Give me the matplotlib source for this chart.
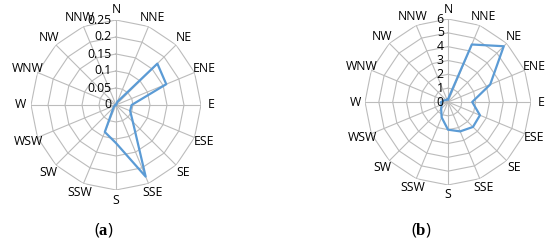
import numpy as np
import matplotlib.pyplot as plt

plt.rcParams['font.family'] = ['Open Sans', 'DejaVu Sans']
plt.rcParams['mathtext.fontset'] = 'custom'
plt.rcParams['mathtext.rm'] = 'Liberation Serif'
plt.rcParams['mathtext.bf'] = 'Liberation Serif:bold'

directions = ['N', 'NNE', 'NE', 'ENE', 'E', 'ESE', 'SE', 'SSE',
              'S', 'SSW', 'SW', 'WSW', 'W', 'WNW', 'NW', 'NNW']

# (a) frequency per direction
freq_a = [0.0, 0.01, 0.172, 0.16, 0.046, 0.045, 0.07, 0.228,
          0.112, 0.086, 0.01, 0.004, 0.002, 0.0, 0.0, 0.0]
ticks_a = [0, 0.05, 0.1, 0.15, 0.2, 0.25]
ticklabels_a = ['0', '0.05', '0.1', '0.15', '0.2', '0.25']

# (b) speed per direction
speed_b = [0.2, 4.5, 5.7, 3.3, 1.75, 2.5, 2.55, 2.3,
           2.0, 1.2, 0.7, 0.5, 0.5, 0.3, 0.2, 0.2]
ticks_b = [0, 1, 2, 3, 4, 5, 6]
ticklabels_b = ['0', '1', '2', '3', '4', '5', '6']

gridcol = '#bcbcbc'
linecol = '#5b9bd5'


def radar(ax, values, ticks, ticklabels):
    theta = np.arange(len(directions)) * 2 * np.pi / len(directions)
    theta_c = np.append(theta, theta[0])
    rmax = ticks[-1]
    ax.set_theta_zero_location('N')
    ax.set_theta_direction(-1)
    ax.set_ylim(0, rmax)
    ax.grid(False)
    ax.spines['polar'].set_visible(False)
    ax.set_xticks([])
    ax.set_yticks([])
    # polygon rings
    for t in ticks[1:]:
        ax.plot(theta_c, [t] * len(theta_c), color=gridcol, lw=0.8, zorder=1)
    # spokes
    for th in theta:
        ax.plot([th, th], [0, rmax], color=gridcol, lw=0.8, zorder=1)
    # data
    v = np.append(values, values[0])
    ax.plot(theta_c, v, color=linecol, lw=1.6, zorder=3)
    # direction labels
    for th, lab in zip(theta, directions):
        ax.text(th, rmax * 1.12, lab, ha='center', va='center', fontsize=8.8)
    # radial tick labels
    for t, lab in zip(ticks, ticklabels):
        ax.annotate(lab, xy=(0, t), xytext=(-3, 0), textcoords='offset points',
                    ha='right', va='center', fontsize=8.8)


fig = plt.figure(figsize=(5.5, 2.49), dpi=100)

ax1 = fig.add_axes([(116 - 85) / 550, (144 - 85) / 249, 170 / 550, 170 / 249], projection='polar')
radar(ax1, freq_a, ticks_a, ticklabels_a)

ax2 = fig.add_axes([(448 - 83) / 550, (147 - 83) / 249, 166 / 550, 166 / 249], projection='polar')
radar(ax2, speed_b, ticks_b, ticklabels_b)

fig.text(104 / 550, 1 - 230 / 249, r'($\mathbf{a}$)', ha='center', va='center', fontsize=12)
fig.text(421 / 550, 1 - 230 / 249, r'($\mathbf{b}$)', ha='center', va='center', fontsize=12)

fig.savefig('out.png', dpi=100)
